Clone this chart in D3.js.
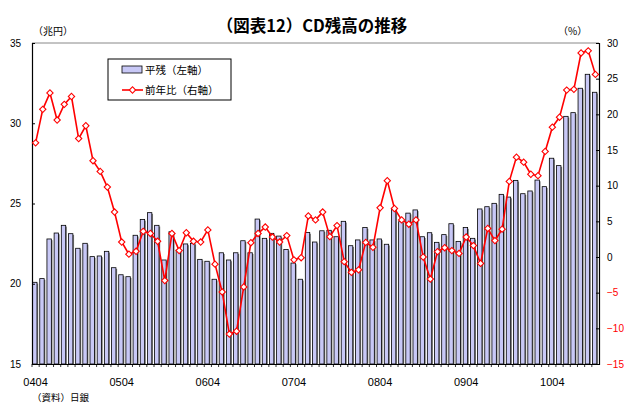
<!DOCTYPE html>
<head>
<meta charset="utf-8">
<title>CD残高の推移</title>
<script type="text/javascript" src="https://cdn.jsdelivr.net/npm/d3@7/dist/d3.min.js"></script>
<style>
	body { margin: 0; background: #fff; }
	text { font-family: "Liberation Sans", Arial, sans-serif; }
	.jp { font-family: "Noto Sans CJK JP", sans-serif; }
</style>
</head>

<body>
<script>
var width = 628;
var height = 403;
var margin = {top: 43, bottom: 39, left: 32, right: 29};

var svg = d3.select('body').append("svg")
		.attr("width", width)
		.attr("height", height)

// data: monthly, 2004/04 - 2010/10
var tickLabels = ["0404", "0504", "0604", "0704", "0804", "0904", "1004"];
var months = d3.range(79).map(function(i) {
	var y = 4 + Math.floor((i + 3) / 12), m = (i + 3) % 12 + 1;
	return (y < 10 ? "0" : "") + y + (m < 10 ? "0" : "") + m;
});
// 平残 (兆円, left axis)
var balance = [
	20.09, 20.32, 22.79, 23.16, 23.64, 23.12, 22.21, 22.52, 21.69, 21.73,
	22.02, 21.00, 20.56, 20.44, 23.02, 24.01, 24.43, 23.64, 21.48, 23.24,
	22.10, 22.48, 22.52, 21.52, 21.40, 20.28, 21.93, 21.48, 21.93, 22.68,
	21.93, 24.03, 22.83, 23.14, 22.97, 22.14, 21.29, 20.28, 23.19, 22.60,
	23.30, 23.33, 22.93, 23.89, 22.37, 22.73, 23.50, 22.73, 22.79, 22.46,
	24.70, 23.87, 24.40, 24.60, 22.93, 23.18, 22.58, 23.06, 23.74, 22.64,
	23.50, 22.83, 24.66, 24.80, 25.01, 25.57, 25.40, 26.44, 25.61, 25.78,
	26.46, 26.05, 27.82, 27.36, 30.43, 30.66, 32.18, 33.05, 31.93];
// 前年比 (%, right axis)
var yoy = [
	16.0, 20.7, 23.0, 19.2, 21.4, 22.5, 16.6, 18.4, 13.5, 12.0,
	9.8, 6.3, 2.1, 0.4, 0.8, 3.6, 3.3, 2.2, -3.3, 3.3,
	0.9, 3.4, 2.2, 2.1, 3.8, -1.0, -4.9, -10.8, -10.4, -4.2,
	2.0, 3.3, 4.2, 2.8, 2.1, 3.0, -0.4, -0.1, 5.75, 5.2,
	6.3, 2.85, 4.4, -0.65, -2.15, -1.8, 2.05, 1.35, 6.9, 10.7,
	6.8, 5.2, 4.6, 5.2, 0.0, -3.1, 0.75, 1.3, 0.9, 0.5,
	2.8, 1.6, -0.9, 4.0, 2.3, 3.9, 10.6, 14.0, 13.3, 11.6,
	11.4, 14.8, 18.2, 19.6, 23.4, 23.5, 28.6, 28.9, 25.6];
var leftTicks = [15, 20, 25, 30, 35];
var rightTicks = [-15, -10, -5, 0, 5, 10, 15, 20, 25, 30];

var x0 = margin.left, x1 = width - margin.right;
var y0 = height - margin.bottom, y1 = margin.top;

// scales
var xScale = d3.scaleBand().domain(months).range([x0, x1]);
var yLeft = d3.scaleLinear().domain([15, 35]).range([y0, y1]);
var yRight = d3.scaleLinear().domain([-15, 30]).range([y0, y1]);
var bw = xScale.bandwidth();
var barW = 4.4;

// title & units
svg.append("text").attr("class", "jp")
	.attr("x", 312).attr("y", 32)
	.attr("text-anchor", "middle")
	.style("font-size", "16.5px").style("font-weight", "bold")
	.text("（図表12）CD残高の推移");
svg.append("text").attr("class", "jp")
	.attr("x", 33).attr("y", 35).style("font-size", "10px")
	.text("（兆円）");
svg.append("text").attr("class", "jp")
	.attr("x", 558).attr("y", 35).style("font-size", "10px")
	.text("（%）");
svg.append("text").attr("class", "jp")
	.attr("x", 32).attr("y", 401).style("font-size", "9.5px")
	.text("（資料）日銀");

// top frame line
svg.append("line")
	.attr("x1", x0).attr("x2", x1).attr("y1", y1).attr("y2", y1)
	.style("stroke", "#888").style("stroke-width", 1);

// bars: shadow then face
var bars = svg.append("g").selectAll("g").data(months).enter().append("g");
bars.append("rect")
	.attr("x", function(d) { return xScale(d) + (bw - barW) / 2 + 0.4; })
	.attr("y", function(d, i) { return yLeft(balance[i]) + 1.2; })
	.attr("width", barW)
	.attr("height", function(d, i) { return y0 - yLeft(balance[i]) - 1.2; })
	.style("fill", "#808080");
bars.append("rect")
	.attr("x", function(d) { return xScale(d) + (bw - barW) / 2 - 0.8; })
	.attr("y", function(d, i) { return yLeft(balance[i]); })
	.attr("width", barW)
	.attr("height", function(d, i) { return y0 - yLeft(balance[i]); })
	.style("fill", "#c8c8f6")
	.style("stroke", "#000")
	.style("stroke-width", 0.8);

// axes
var axL = svg.append("g").attr("transform", "translate(" + x0 + ",0)")
	.call(d3.axisLeft(yLeft).tickValues(leftTicks).tickSize(-3).tickPadding(11));
var axR = svg.append("g").attr("transform", "translate(" + x1 + ",0)")
	.call(d3.axisRight(yRight).tickValues(rightTicks).tickSize(-3).tickPadding(8));
var axB = svg.append("g").attr("transform", "translate(0," + y0 + ")")
	.call(d3.axisBottom(xScale).tickValues([]).tickSize(0));
[axL, axR, axB].forEach(function(a) {
	a.select(".domain").style("stroke", "#000").style("stroke-width", 1.2);
	a.selectAll(".tick line").style("stroke", "#000");
	a.selectAll("text").style("font-size", "10px").style("font-family", "Liberation Sans, Arial, sans-serif");
});
axR.selectAll(".tick text")
	.style("fill", function(d) { return d < 0 ? "#ff0000" : "#000"; });

// month ticks under axis
svg.append("g").selectAll("line").data(months).enter().append("line")
	.attr("x1", function(d) { return xScale(d); })
	.attr("x2", function(d) { return xScale(d); })
	.attr("y1", y0).attr("y2", y0 + 3)
	.style("stroke", "#000").style("stroke-width", 0.8);

// x labels
svg.append("g").selectAll("text").data(tickLabels).enter().append("text")
	.attr("x", function(d) { return xScale(d) + bw / 2; })
	.attr("y", 386)
	.attr("text-anchor", "middle")
	.style("font-size", "11px")
	.text(function(d) { return d; });

// line
var line = d3.line()
	.x(function(d, i) { return xScale(months[i]) + bw / 2; })
	.y(function(d) { return yRight(d); });
svg.append("path").datum(yoy)
	.attr("d", line)
	.style("fill", "none")
	.style("stroke", "#ff0000")
	.style("stroke-width", 1.6);

var diamond = d3.symbol().type(d3.symbolSquare).size(20);
svg.append("g").selectAll("path").data(yoy).enter().append("path")
	.attr("d", diamond)
	.attr("transform", function(d, i) {
		return "translate(" + (xScale(months[i]) + bw / 2) + "," + yRight(d) + ") rotate(45)";
	})
	.style("fill", "#fff")
	.style("stroke", "#ff0000")
	.style("stroke-width", 1.1);

// legend
var lg = svg.append("g");
lg.append("rect")
	.attr("x", 108).attr("y", 59).attr("width", 123).attr("height", 41)
	.style("fill", "#fff").style("stroke", "#000").style("stroke-width", 1);
lg.append("rect")
	.attr("x", 122).attr("y", 66).attr("width", 20).attr("height", 7)
	.style("fill", "#c8c8f6").style("stroke", "#000").style("stroke-width", 0.8);
lg.append("text").attr("class", "jp")
	.attr("x", 145).attr("y", 74).style("font-size", "10.5px")
	.text("平残（左軸）");
lg.append("line")
	.attr("x1", 122).attr("x2", 143).attr("y1", 90).attr("y2", 90)
	.style("stroke", "#ff0000").style("stroke-width", 1.6);
lg.append("path")
	.attr("d", diamond)
	.attr("transform", "translate(132.5,90) rotate(45)")
	.style("fill", "#fff").style("stroke", "#ff0000").style("stroke-width", 1.1);
lg.append("text").attr("class", "jp")
	.attr("x", 145).attr("y", 94).style("font-size", "10.5px")
	.text("前年比（右軸）");
</script>
</body>
